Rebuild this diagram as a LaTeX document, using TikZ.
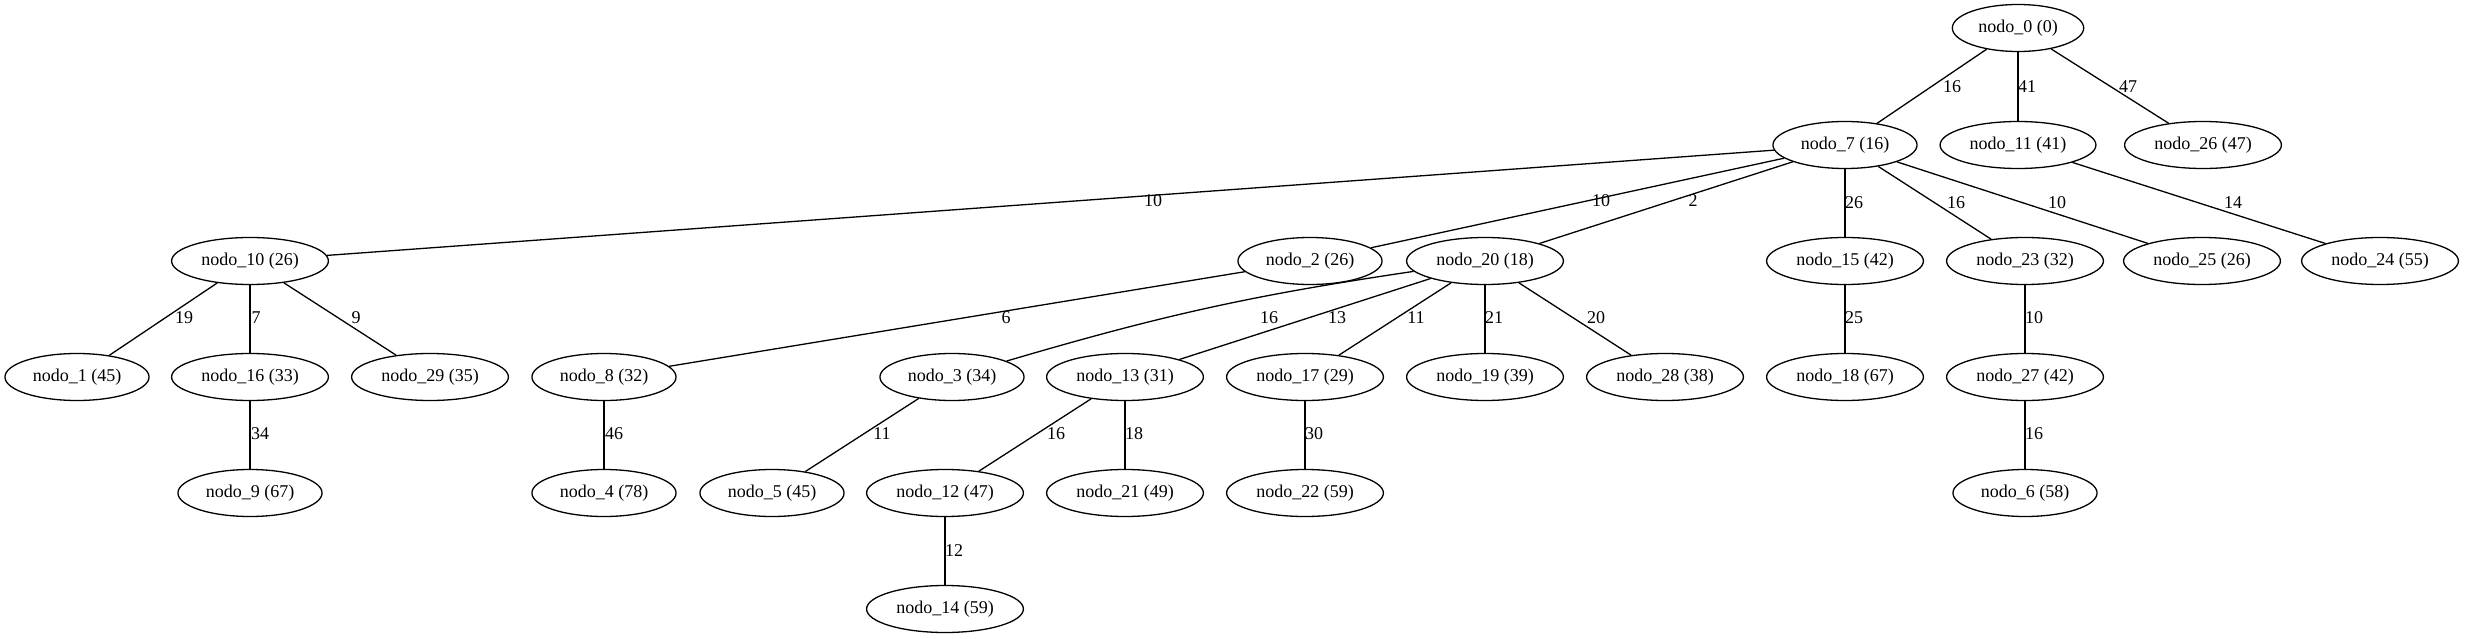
\documentclass[tikz,border=0pt]{standalone}
\usepackage{fontspec}
\setmainfont{Liberation Serif}
\usetikzlibrary{shapes.geometric}
\begin{document}
\begin{tikzpicture}[x=1pt,y=-1pt,
  nd/.style={draw,ellipse,line width=1.3pt,inner xsep=6.7pt,inner ysep=2pt,minimum height=47pt,font=\fontsize{18}{20}\selectfont},
  ed/.style={line width=1.3pt},
  lb/.style={inner sep=0pt,font=\fontsize{18}{20}\selectfont}]
\useasboundingbox[fill=white] (0,0) rectangle (2469,639);
% rank 0
\node[nd] (n0) at (2018,28) {nodo\_0 (0)};
% rank 1
\node[nd] (n7) at (1845,145) {nodo\_7 (16)};
\node[nd] (n11) at (2018,145) {nodo\_11 (41)};
\node[nd] (n26) at (2203,145) {nodo\_26 (47)};
% rank 2
\node[nd] (n10) at (250,261) {nodo\_10 (26)};
\node[nd] (n2) at (1310,261) {nodo\_2 (26)};
\node[nd] (n20) at (1485,261) {nodo\_20 (18)};
\node[nd] (n15) at (1845,261) {nodo\_15 (42)};
\node[nd] (n23) at (2025,261) {nodo\_23 (32)};
\node[nd] (n25) at (2202,261) {nodo\_25 (26)};
\node[nd] (n24) at (2380,261) {nodo\_24 (55)};
% rank 3
\node[nd] (n1) at (77,377) {nodo\_1 (45)};
\node[nd] (n16) at (250,377) {nodo\_16 (33)};
\node[nd] (n29) at (430,377) {nodo\_29 (35)};
\node[nd] (n8) at (604,377) {nodo\_8 (32)};
\node[nd] (n3) at (952,377) {nodo\_3 (34)};
\node[nd] (n13) at (1125,377) {nodo\_13 (31)};
\node[nd] (n17) at (1305,377) {nodo\_17 (29)};
\node[nd] (n19) at (1485,377) {nodo\_19 (39)};
\node[nd] (n28) at (1665,377) {nodo\_28 (38)};
\node[nd] (n18) at (1845,377) {nodo\_18 (67)};
\node[nd] (n27) at (2025,377) {nodo\_27 (42)};
% rank 4
\node[nd] (n9) at (250,493) {nodo\_9 (67)};
\node[nd] (n4) at (604,493) {nodo\_4 (78)};
\node[nd] (n5) at (772,493) {nodo\_5 (45)};
\node[nd] (n12) at (945,493) {nodo\_12 (47)};
\node[nd] (n21) at (1125,493) {nodo\_21 (49)};
\node[nd] (n22) at (1305,493) {nodo\_22 (59)};
\node[nd] (n6) at (2025,493) {nodo\_6 (58)};
% rank 5
\node[nd] (n14) at (945,609) {nodo\_14 (59)};
% edges
\draw[ed] (n0) -- (n7);
\draw[ed] (n0) -- (n11);
\draw[ed] (n0) -- (n26);
\draw[ed] (n7) -- (n10);
\draw[ed] (n7) -- (n2);
\draw[ed] (n7) -- (n20);
\draw[ed] (n7) -- (n15);
\draw[ed] (n7) -- (n23);
\draw[ed] (n7) -- (n25);
\draw[ed] (n11) -- (n24);
\draw[ed] (n10) -- (n1);
\draw[ed] (n10) -- (n16);
\draw[ed] (n10) -- (n29);
\draw[ed] (n2) -- (n8);
\draw[ed] (n20) to[bend right=4] (n3);
\draw[ed] (n20) -- (n13);
\draw[ed] (n20) -- (n17);
\draw[ed] (n20) -- (n19);
\draw[ed] (n20) -- (n28);
\draw[ed] (n15) -- (n18);
\draw[ed] (n23) -- (n27);
\draw[ed] (n16) -- (n9);
\draw[ed] (n8) -- (n4);
\draw[ed] (n3) -- (n5);
\draw[ed] (n13) -- (n12);
\draw[ed] (n13) -- (n21);
\draw[ed] (n17) -- (n22);
\draw[ed] (n27) -- (n6);
\draw[ed] (n12) -- (n14);
% edge labels
\node[lb] (l0-7) at (1952,87) {16};
\node[lb] (l0-11) at (2027,87) {41};
\node[lb] (l0-26) at (2128,87) {47};
\node[lb] (l7-10) at (1153,201) {10};
\node[lb] (l7-2) at (1601,201) {10};
\node[lb] (l7-20) at (1693,201) {2};
\node[lb] (l7-15) at (1854,203) {26};
\node[lb] (l7-23) at (1956,203) {16};
\node[lb] (l7-25) at (2057,203) {10};
\node[lb] (l11-24) at (2233,203) {14};
\node[lb] (l10-1) at (184,318) {19};
\node[lb] (l10-16) at (256,318) {7};
\node[lb] (l10-29) at (356,318) {9};
\node[lb] (l2-8) at (1006,318) {6};
\node[lb] (l20-3) at (1269,318) {16};
\node[lb] (l20-13) at (1337,318) {13};
\node[lb] (l20-17) at (1416,318) {11};
\node[lb] (l20-19) at (1494,318) {21};
\node[lb] (l20-28) at (1596,318) {20};
\node[lb] (l15-18) at (1854,318) {25};
\node[lb] (l23-27) at (2034,318) {10};
\node[lb] (l16-9) at (260,434) {34};
\node[lb] (l8-4) at (614,434) {46};
\node[lb] (l3-5) at (882,434) {11};
\node[lb] (l13-12) at (1056,434) {16};
\node[lb] (l13-21) at (1134,434) {18};
\node[lb] (l17-22) at (1314,434) {30};
\node[lb] (l27-6) at (2034,434) {16};
\node[lb] (l12-14) at (954,551) {12};
\end{tikzpicture}
\end{document}
